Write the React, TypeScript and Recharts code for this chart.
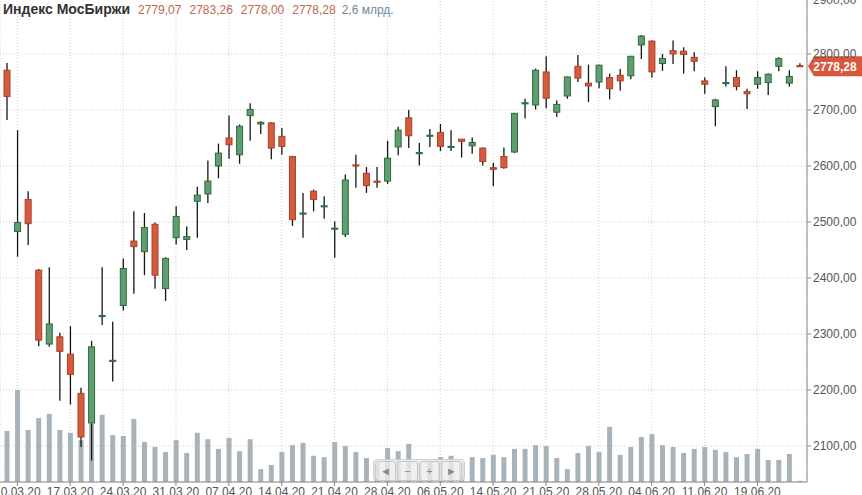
import React from 'react';
import { ComposedChart, Bar, XAxis, YAxis, CartesianGrid, ReferenceLine } from 'recharts';

const dates = [
  '06.03.20', '10.03.20', '11.03.20', '12.03.20', '13.03.20', '16.03.20', '17.03.20', '18.03.20', '19.03.20', '20.03.20',
  '23.03.20', '24.03.20', '25.03.20', '26.03.20', '27.03.20', '30.03.20', '31.03.20', '01.04.20', '02.04.20', '03.04.20',
  '06.04.20', '07.04.20', '08.04.20', '09.04.20', '10.04.20', '13.04.20', '14.04.20', '15.04.20', '16.04.20', '17.04.20',
  '20.04.20', '21.04.20', '22.04.20', '23.04.20', '24.04.20', '27.04.20', '28.04.20', '29.04.20', '30.04.20', '04.05.20',
  '05.05.20', '06.05.20', '07.05.20', '08.05.20', '12.05.20', '13.05.20', '14.05.20', '15.05.20', '18.05.20', '19.05.20',
  '20.05.20', '21.05.20', '22.05.20', '25.05.20', '26.05.20', '27.05.20', '28.05.20', '29.05.20', '01.06.20', '02.06.20',
  '03.06.20', '04.06.20', '05.06.20', '08.06.20', '09.06.20', '10.06.20', '11.06.20', '15.06.20', '16.06.20', '17.06.20',
  '18.06.20', '19.06.20', '22.06.20', '23.06.20', '25.06.20', '26.06.20',
];

const opens = [
  2771, 2483, 2540, 2414, 2282, 2295, 2264, 2194, 2141, 2331,
  2251, 2351, 2466, 2447, 2496, 2381, 2472, 2469, 2537, 2550,
  2600, 2650, 2620, 2690, 2675, 2677, 2653, 2617, 2514, 2555,
  2527, 2487, 2478, 2602, 2587, 2573, 2573, 2634, 2686, 2622,
  2653, 2660, 2633, 2648, 2636, 2632, 2597, 2617, 2625, 2711,
  2709, 2768, 2696, 2725, 2778, 2748, 2750, 2758, 2762, 2761,
  2816, 2823, 2783, 2806, 2805, 2794, 2752, 2706, 2747, 2758,
  2733, 2746, 2749, 2778, 2748, 2779.07,
];
const highs = [
  2784, 2664, 2555, 2416, 2419, 2302, 2314, 2204, 2288, 2419,
  2322, 2435, 2519, 2516, 2499, 2437, 2528, 2492, 2563, 2610,
  2640, 2690, 2674, 2712, 2680, 2678, 2668, 2618, 2552, 2558,
  2546, 2501, 2585, 2620, 2598, 2598, 2645, 2670, 2700, 2641,
  2666, 2675, 2664, 2648, 2651, 2633, 2606, 2633, 2695, 2720,
  2774, 2796, 2717, 2760, 2798, 2781, 2781, 2765, 2773, 2796,
  2834, 2824, 2800, 2824, 2812, 2803, 2758, 2720, 2778, 2771,
  2738, 2769, 2765, 2794, 2771, 2783.26,
];
const lows = [
  2682, 2438, 2459, 2278, 2277, 2181, 2174, 2098, 2074, 2316,
  2215, 2342, 2372, 2405, 2381, 2359, 2460, 2450, 2472, 2534,
  2578, 2613, 2604, 2645, 2657, 2612, 2620, 2493, 2472, 2519,
  2506, 2436, 2473, 2561, 2552, 2561, 2568, 2619, 2632, 2601,
  2634, 2627, 2627, 2615, 2622, 2601, 2564, 2595, 2623, 2685,
  2701, 2703, 2688, 2720, 2750, 2714, 2739, 2719, 2735, 2755,
  2791, 2758, 2770, 2782, 2765, 2769, 2729, 2671, 2742, 2735,
  2702, 2738, 2727, 2769, 2742, 2778.0,
];
const closes = [
  2724, 2499, 2497, 2289, 2318, 2269, 2228, 2116, 2277, 2333,
  2253, 2417, 2456, 2490, 2405, 2435, 2510, 2474, 2548, 2573,
  2623, 2638, 2671, 2701, 2678, 2632, 2635, 2504, 2516, 2540,
  2529, 2489, 2575, 2600, 2565, 2571, 2614, 2664, 2654, 2624,
  2655, 2635, 2635, 2644, 2642, 2608, 2594, 2597, 2694, 2713,
  2771, 2721, 2710, 2759, 2757, 2743, 2780, 2738, 2752, 2796,
  2832, 2768, 2792, 2800, 2799, 2787, 2746, 2718, 2749, 2742,
  2729, 2758, 2764, 2792, 2760, 2778.28,
];
// turnover, bn RUB
const volumes = [
  111, 200, 113, 139, 148, 113, 107, 91, 126, 146,
  102, 100, 137, 87, 76, 65, 91, 63, 107, 93,
  72, 96, 67, 93, 28, 37, 65, 80, 85, 57,
  54, 87, 78, 65, 52, 43, 74, 67, 83, 41,
  43, 54, 57, 41, 54, 52, 59, 54, 72, 72,
  80, 78, 52, 28, 63, 78, 65, 120, 59, 76,
  98, 104, 80, 76, 63, 72, 76, 70, 65, 54,
  61, 72, 48, 48, 61, 2.6,
];

const tickDates = [
  '10.03.20', '17.03.20', '24.03.20', '31.03.20', '07.04.20', '14.04.20', '21.04.20', '28.04.20',
  '06.05.20', '14.05.20', '21.05.20', '28.05.20', '04.06.20', '11.06.20', '19.06.20',
];
const priceTicks = [2100, 2200, 2300, 2400, 2500, 2600, 2700, 2800, 2900];

const data = dates.map((date, i) => ({
  date,
  open: opens[i],
  high: highs[i],
  low: lows[i],
  close: closes[i],
  range: [lows[i], highs[i]],
  volume: volumes[i],
}));

const last = data[data.length - 1];
const fmt = (v: number) => v.toFixed(2).replace('.', ',');

const RED = '#d65a3c';
const RED_DARK = '#a9412b';
const GREEN = '#5f9e70';
const GREEN_DARK = '#2e6a3d';

const Candle = (props: any) => {
  const { x, y, width, height, payload } = props;
  if (!payload || height == null) return null;
  const top = Math.min(y, y + height);
  const h = Math.abs(height);
  const { open, close, high, low } = payload;
  const k = h / (high - low);
  const yOpen = top + (high - open) * k;
  const yClose = top + (high - close) * k;
  const up = close >= open;
  const bodyTop = Math.min(yOpen, yClose);
  const bodyH = Math.max(Math.abs(yOpen - yClose), 1);
  const cx = x + width / 2;
  return (
    <g>
      <line x1={cx} x2={cx} y1={top} y2={top + h} stroke="#151515" strokeWidth={1.3} />
      <rect
        x={x + 0.5}
        y={bodyTop}
        width={width - 1}
        height={bodyH}
        fill={up ? GREEN : RED}
        stroke={up ? GREEN_DARK : RED_DARK}
        strokeWidth={1}
      />
    </g>
  );
};

const PriceTag = (props: any) => {
  const vb = props.viewBox || {};
  const x = (vb.x || 0) + (vb.width || 0) + 1;
  const y = vb.y || 0;
  return (
    <g>
      <polygon
        points={`${x},${y} ${x + 6},${y - 10} ${x + 60},${y - 10} ${x + 60},${y + 10} ${x + 6},${y + 10}`}
        fill="#d8583b"
      />
      <text x={x + 27} y={y + 4.5} textAnchor="middle" fill="#fff" fontSize={12} fontWeight="bold">
        {fmt(last.close)}
      </text>
    </g>
  );
};

const navBtn: React.CSSProperties = {
  width: 21,
  height: 20,
  border: '1px solid #c8c8c8',
  borderRadius: 3,
  display: 'flex',
  alignItems: 'center',
  justifyContent: 'center',
  color: '#8a8a8a',
  fontSize: 11,
  boxSizing: 'border-box',
};

export default function App() {
  return (
    <div style={{ position: 'absolute', left: 0, top: -8, width: 862, height: 503, fontFamily: 'Arial, "Liberation Sans", sans-serif', background: '#fff' }}>
      <ComposedChart width={862} height={503} data={data} margin={{ top: 6, right: 0, left: 0, bottom: 0 }}>
        <CartesianGrid xAxisId="main" yAxisId="price" stroke="#cdcdcd" strokeDasharray="1 2" />
        <XAxis
          xAxisId="main"
          dataKey="date"
          ticks={tickDates}
          interval={0}
          padding={{ left: 1.5, right: 2 }}
          height={13}
          tickSize={4}
          tickMargin={1}
          stroke="#888"
          tick={{ fill: '#555', fontSize: 12 }}
        />
        <XAxis xAxisId="vol" dataKey="date" hide padding={{ left: 1.5, right: 2 }} />
        <YAxis
          yAxisId="price"
          orientation="right"
          domain={[2035.7, 2900]}
          ticks={priceTicks}
          allowDataOverflow
          width={55}
          tickSize={4}
          tickMargin={2}
          stroke="#888"
          tick={{ fill: '#555', fontSize: 12 }}
          tickFormatter={fmt}
        />
        <YAxis yAxisId="vol" hide domain={[0, 1052]} />
        <Bar xAxisId="vol" yAxisId="vol" dataKey="volume" barSize={5} fill="#a7b3b9" isAnimationActive={false} />
        <Bar xAxisId="main" yAxisId="price" dataKey="range" barSize={7} shape={Candle} isAnimationActive={false} />
        <ReferenceLine xAxisId="main" yAxisId="price" y={last.close} stroke="none" label={<PriceTag />} />
      </ComposedChart>

      <div style={{ position: 'absolute', left: 3, top: 8, lineHeight: '18px', whiteSpace: 'nowrap', fontSize: 12 }}>
        <span style={{ fontWeight: 'bold', fontSize: 14, color: '#333' }}>Индекс МосБиржи</span>
        <span style={{ color: '#c06651', marginLeft: 8 }}>{fmt(last.open)}</span>
        <span style={{ color: '#c06651', marginLeft: 8 }}>{fmt(last.high)}</span>
        <span style={{ color: '#c06651', marginLeft: 8 }}>{fmt(last.low)}</span>
        <span style={{ color: '#c06651', marginLeft: 8 }}>{fmt(last.close)}</span>
        <span style={{ color: '#71889a', marginLeft: 6 }}>{String(last.volume).replace('.', ',')} млрд.</span>
      </div>

      <div
        style={{
          position: 'absolute',
          left: 373,
          top: 467,
          width: 92,
          height: 22,
          display: 'flex',
          gap: 1,
          padding: 1,
          boxSizing: 'border-box',
          background: 'rgba(236,236,236,0.8)',
          border: '1px solid #cfcfcf',
          borderRadius: 4,
        }}
      >
        <div style={navBtn}>◄</div>
        <div style={navBtn}>−</div>
        <div style={navBtn}>+</div>
        <div style={navBtn}>►</div>
      </div>
    </div>
  );
}
